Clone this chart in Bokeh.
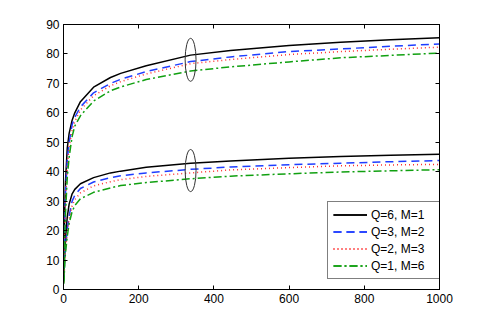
from bokeh.plotting import figure
from bokeh.models import Range1d, LinearAxis, FixedTicker, Legend, LegendItem
from bokeh.embed import file_html
from bokeh.resources import INLINE

# ---- data ----
x = [1, 3, 5, 10, 15, 23, 30, 45, 80, 125, 152, 220, 338, 444, 600, 737, 870, 1000]

up_q6m1 = [8, 25, 36, 48, 53, 57.5, 60, 63.8, 68.7, 72.0, 73.4, 76.0, 79.6, 81.2, 82.9, 84.0, 84.8, 85.5]
up_q3m2 = [6, 21, 32, 44, 50, 56, 58.5, 62, 66.8, 70.0, 71.4, 74.0, 77.4, 79.0, 80.8, 81.7, 82.6, 83.4]
up_q2m3 = [5, 19, 30, 42, 48.5, 54, 57, 61.0, 65.8, 69.2, 70.6, 73.2, 76.7, 78.1, 79.8, 80.8, 81.6, 82.3]
up_q1m6 = [3, 15, 25, 38, 45, 52, 55.5, 59.0, 64.0, 67.5, 68.8, 71.3, 74.2, 75.6, 77.3, 78.7, 79.5, 80.3]

lo_q6m1 = [4, 12, 17, 24.6, 29, 32.5, 34, 35.9, 38.0, 39.6, 40.2, 41.5, 42.9, 43.6, 44.6, 45.2, 45.6, 45.9]
lo_q3m2 = [3, 10, 14, 20.5, 25, 30, 32.0, 34.3, 36.5, 38.0, 38.6, 39.6, 40.8, 41.6, 42.4, 42.9, 43.4, 43.8]
lo_q2m3 = [2.5, 9, 13, 19.5, 24, 28.5, 30.5, 32.8, 35.2, 36.6, 37.3, 38.4, 39.6, 40.6, 41.4, 42.0, 42.3, 42.5]
lo_q1m6 = [2, 8, 12, 18, 22.5, 26.5, 28.5, 30.8, 33.0, 34.5, 35.3, 36.3, 37.6, 38.5, 39.3, 39.9, 40.3, 40.7]

labels = ["Q=6, M=1", "Q=3, M=2", "Q=2, M=3", "Q=1, M=6"]

ellipse_x = [338, 338]
ellipse_y = [78.0, 40.4]
ellipse_w = [29, 29]
ellipse_h = [14.6, 14.3]

x_ticks = [0, 200, 400, 600, 800, 1000]
y_ticks = [0, 10, 20, 30, 40, 50, 60, 70, 80, 90]

# ---- figure ----
FONT = "Liberation Sans"
p = figure(width=477, height=317, output_backend="svg", toolbar_location=None,
           x_range=Range1d(0, 1000), y_range=Range1d(0, 90),
           min_border_left=63, min_border_right=38, min_border_top=24, min_border_bottom=28)
p.xgrid.visible = False
p.ygrid.visible = False
p.outline_line_color = "black"
p.outline_line_width = 1
p.background_fill_color = "white"
p.border_fill_color = "white"

def style_axis(ax, ticks, show_labels=True):
    ax.ticker = FixedTicker(ticks=ticks)
    ax.major_tick_in = 4
    ax.major_tick_out = 0
    ax.minor_tick_in = 0
    ax.minor_tick_out = 0
    ax.axis_line_color = "black"
    ax.major_tick_line_color = "black"
    ax.major_label_text_font = FONT
    ax.major_label_text_font_size = "12px"
    ax.major_label_text_color = "black"
    if not show_labels:
        ax.major_label_overrides = {t: "" for t in ticks}

style_axis(p.xaxis[0], x_ticks)
p.xaxis[0].major_label_standoff = 4
style_axis(p.yaxis[0], y_ticks)
p.yaxis[0].major_label_standoff = 4

top = LinearAxis()
style_axis(top, x_ticks, show_labels=False)
p.add_layout(top, "above")
right = LinearAxis()
style_axis(right, y_ticks, show_labels=False)
p.add_layout(right, "right")

styles = [
    dict(line_color="black", line_dash="solid", line_width=1.5),
    dict(line_color="#1f3dff", line_dash="8 5", line_width=1.5),
    dict(line_color="#ff3030", line_dash="1 3", line_width=1.5),
    dict(line_color="#10a010", line_dash="8 3 2 3", line_width=1.5),
]

ups = [up_q6m1, up_q3m2, up_q2m3, up_q1m6]
los = [lo_q6m1, lo_q3m2, lo_q2m3, lo_q1m6]
items = []
for lab, st, u, l in zip(labels, styles, ups, los):
    r1 = p.line(x, u, **st)
    r2 = p.line(x, l, **st)
    items.append(LegendItem(label=lab, renderers=[r1, r2]))

p.ellipse(x=ellipse_x, y=ellipse_y, width=ellipse_w, height=ellipse_h,
          fill_color=None, line_color="#333333", line_width=1)

legend = Legend(items=items, location=(264, 10))
legend.label_text_font = FONT
legend.label_text_font_size = "12px"
legend.label_text_color = "black"
legend.border_line_color = "black"
legend.border_line_width = 1
legend.background_fill_color = "white"
legend.background_fill_alpha = 1
legend.padding = 5
legend.spacing = 2
legend.glyph_width = 34
legend.glyph_height = 15
legend.label_height = 15
legend.label_width = 63
legend.label_standoff = 4
legend.margin = 0
p.add_layout(legend, "center")

open("out.html", "w").write(file_html(p, INLINE))
